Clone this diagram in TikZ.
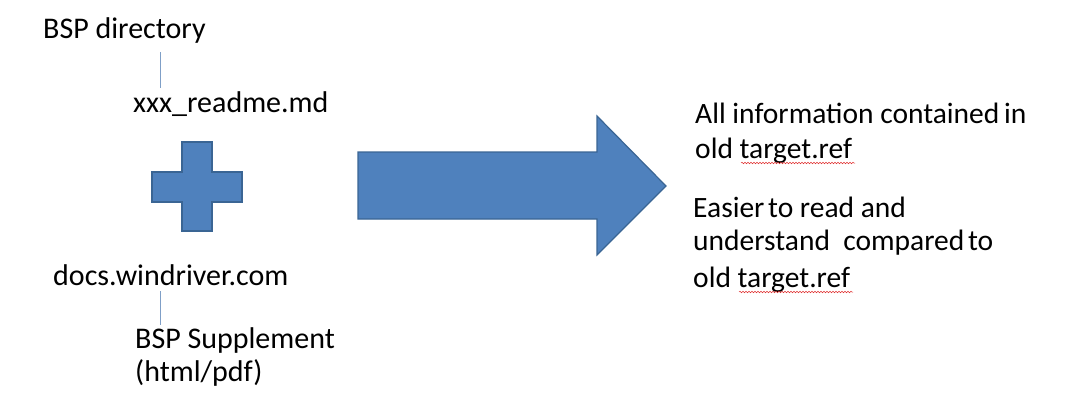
\documentclass[tikz,border=0pt]{standalone}
\usepackage{fontspec}
\setmainfont{Carlito}
\usetikzlibrary{decorations.pathmorphing}
\definecolor{shapeblue}{HTML}{4F81BD}
\definecolor{shapeedge}{HTML}{3A6594}
\definecolor{linkblue}{HTML}{7F9FC7}
\definecolor{squiggle}{HTML}{E03030}
\tikzset{
  lbl/.style={anchor=base west, inner sep=0pt, font=\fontsize{30}{35}\selectfont, text=black},
  rlbl/.style={anchor=base west, inner sep=0pt, font=\fontsize{29.5}{35}\selectfont, text=black},
  shapefill/.style={fill=shapeblue, draw=shapeedge, line width=1.2pt, line join=miter},
  link/.style={draw=linkblue, line width=0.9pt},
  spell/.style={draw=squiggle, line width=0.5pt, decorate, decoration={snake, amplitude=0.8pt, segment length=3pt}}
}
\begin{document}
\begin{tikzpicture}[x=1pt, y=-1pt]
\useasboundingbox (0,0) rectangle (1072,418);
% left texts
\node[lbl] (dir) at (43,38) {BSP directory};
\node[lbl] (readme) at (133,112) {xxx\_readme.md};
\node[lbl] (docs) at (53,285) {docs.windriver.com};
\node[lbl] (supp) at (135,348) {BSP Supplement};
\node[lbl] (pdf) at (135,381) {(html/pdf)};
% connectors
\coordinate (c1a) at (160,52);
\coordinate (c1b) at (160,88);
\coordinate (c2a) at (160,291);
\coordinate (c2b) at (160,325);
\draw[link] (c1a) -- (c1b);
\draw[link] (c2a) -- (c2b);
% plus
\path[shapefill] (182,142) -- (212,142) -- (212,172) -- (242,172) -- (242,202) -- (212,202) -- (212,231) -- (182,231) -- (182,202) -- (152,202) -- (152,172) -- (182,172) -- cycle;
% arrow
\path[shapefill] (358,152) -- (597,152) -- (597,116) -- (666,186) -- (597,255) -- (597,219) -- (358,219) -- cycle;
% right texts
\node[rlbl] (r1) at (695,123) {All information contained\kern-2pt\ in};
\node[rlbl] (r2) at (695,158) {old target.ref};
\node[rlbl] (r3) at (693,217) {Easier\kern-3pt\ to read and};
\node[rlbl] (r4) at (693,250) {understand\ \ compared\kern-3pt\ to};
\node[rlbl] (r5) at (693,287) {old target.ref};
\draw[spell] (741,163) -- (855,163);
\draw[spell] (739,292) -- (853,292);
\end{tikzpicture}
\end{document}
